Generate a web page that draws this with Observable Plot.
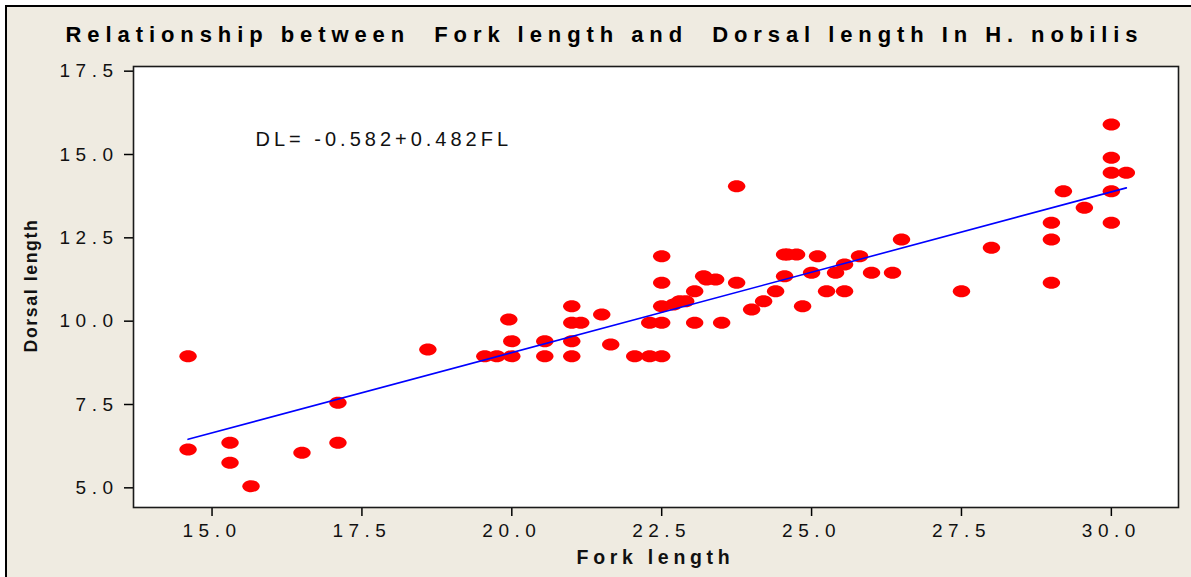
<!DOCTYPE html>
<html>
<head>
<meta charset="utf-8">
<script src="https://cdn.jsdelivr.net/npm/d3@7"></script>
<script src="https://cdn.jsdelivr.net/npm/@observablehq/plot@0.6"></script>
<style>
  html, body { margin: 0; padding: 0; background: #ffffff; }
  #wrap { position: relative; width: 1191px; height: 577px; overflow: hidden; background: #ffffff; }
  #panel { position: absolute; left: 5px; top: 5px; right: 0; bottom: 0;
           background: #efebe1; border-left: 2px solid #000; border-top: 2px solid #000; }
  #chart { position: absolute; left: 0; top: 0; }
</style>
</head>
<body>
<div id="wrap"><div id="panel"></div><div id="chart"></div></div>
<script>
// ---- data ----
const forkLength = [
  14.6, 14.6, 15.3, 15.3, 15.65, 16.5, 17.1, 17.1, 18.6,
  19.55, 19.75, 20.0, 20.0, 19.95, 20.55, 20.55,
  21.0, 21.0, 21.15, 21.0, 21.0, 21.5, 21.65,
  22.05, 22.3, 22.5, 22.3, 22.5, 22.5, 22.5, 22.5,
  22.7, 22.8, 22.9, 23.05, 23.05, 23.2, 23.25, 23.4, 23.5,
  23.75, 23.75, 24.0, 24.2, 24.4, 24.55, 24.6, 24.75, 24.55, 24.85,
  25.0, 25.1, 25.25, 25.4, 25.55, 25.55, 25.8, 26.0, 26.35, 26.5,
  27.5, 28.0, 29.0, 29.0, 29.0, 29.2, 29.55,
  30.0, 30.0, 30.0, 30.25, 30.0, 30.0
];
const dorsalLength = [
  8.95, 6.15, 6.35, 5.75, 5.05, 6.05, 7.55, 6.35, 9.15,
  8.95, 8.95, 8.95, 9.4, 10.05, 9.4, 8.95,
  10.45, 9.95, 9.95, 9.4, 8.95, 10.2, 9.3,
  8.95, 8.95, 8.95, 9.95, 9.95, 10.45, 11.15, 11.95,
  10.5, 10.6, 10.6, 10.9, 9.95, 11.35, 11.25, 11.25, 9.95,
  11.15, 14.05, 10.35, 10.6, 10.9, 12.0, 12.0, 12.0, 11.35, 10.45,
  11.45, 11.95, 10.9, 11.45, 11.7, 10.9, 11.95, 11.45, 11.45, 12.45,
  10.9, 12.2, 11.15, 12.45, 12.95, 13.9, 13.4,
  12.95, 13.9, 14.45, 14.45, 14.9, 15.9
];
const xTicks = [15.0, 17.5, 20.0, 22.5, 25.0, 27.5, 30.0];
const yTicks = [5.0, 7.5, 10.0, 12.5, 15.0, 17.5];
const intercept = -0.582;
const slope = 0.482;
const titleText = "Relationship between  Fork length and  Dorsal length In H. nobilis";
const equationText = "DL= -0.582+0.482FL";
const xLabel = "Fork length";
const yLabel = "Dorsal length";

// ---- build ----
const points = forkLength.map((fl, i) => ({fl, dl: dorsalLength[i]}));
const flExtent = d3.extent(forkLength);
const fit = flExtent.map(fl => ({fl, dl: intercept + slope * fl}));

// ellipse symbol (wider than tall), drawn from the size Plot gives it
const ellipse = {
  draw(ctx, size) {
    const r = Math.sqrt(size / Math.PI);
    const rx = r, ry = r * 0.69, k = 0.5523;
    ctx.moveTo(rx, 0);
    ctx.bezierCurveTo(rx, k * ry, k * rx, ry, 0, ry);
    ctx.bezierCurveTo(-k * rx, ry, -rx, k * ry, -rx, 0);
    ctx.bezierCurveTo(-rx, -k * ry, -k * rx, -ry, 0, -ry);
    ctx.bezierCurveTo(k * rx, -ry, rx, -k * ry, rx, 0);
    ctx.closePath();
  }
};

const mL = 133, mT = 66;
const font = "'Liberation Sans', Arial, sans-serif";

const chart = Plot.plot({
  width: 1191,
  height: 577,
  marginLeft: mL,
  marginRight: 13,
  marginTop: mT,
  marginBottom: 70,
  style: {background: "transparent", fontFamily: font, overflow: "visible"},
  x: {domain: [13.69, 31.12]},
  y: {domain: [4.41, 17.64]},
  marks: [
    Plot.frame({fill: "#ffffff", stroke: "none"}),
    Plot.axisX({ticks: xTicks, tickFormat: d3.format(".1f"), tickSize: 9, tickPadding: 7,
                fontSize: 19, stroke: "#000", strokeWidth: 1.5, fill: "#111", label: null}),
    Plot.axisY({ticks: yTicks, tickFormat: d3.format(".1f"), tickSize: 9, tickPadding: 6,
                fontSize: 19, stroke: "#000", strokeWidth: 1.5, fill: "#111", label: null}),
    Plot.dot(points, {x: "fl", y: "dl", r: 8.7, symbol: ellipse, fill: "#ff0000", stroke: "none"}),
    Plot.line(fit, {x: "fl", y: "dl", stroke: "#0000ff", strokeWidth: 1.6}),
    Plot.frame({stroke: "#1a1a1a", strokeWidth: 1.6}),
    Plot.text([titleText], {frameAnchor: "top-left", dx: 601 - mL, dy: 34.5 - mT,
               textAnchor: "middle", lineAnchor: "middle", fontSize: 22, fontWeight: "bold", fill: "#000"}),
    Plot.text([equationText], {frameAnchor: "top-left", dx: 255 - mL, dy: 139 - mT,
               textAnchor: "start", lineAnchor: "middle", fontSize: 20, fill: "#111"}),
    Plot.text([xLabel], {frameAnchor: "top-left", dx: 655 - mL, dy: 557 - mT,
               textAnchor: "middle", lineAnchor: "middle", fontSize: 19.5, fontWeight: "bold", fill: "#111"}),
    Plot.text([yLabel], {frameAnchor: "top-left", dx: 30.5 - mL, dy: 285 - mT, rotate: -90,
               textAnchor: "middle", lineAnchor: "middle", fontSize: 17.7, fontWeight: "bold", fill: "#111"})
  ]
});

// letter spacing styling
const spacing = new Map([[equationText, "4.0px"], [xLabel, "4.7px"], [yLabel, "1.6px"]]);
chart.querySelectorAll("text").forEach(t => {
  const s = spacing.get(t.textContent);
  if (s) { t.style.letterSpacing = s; t.style.whiteSpace = "pre"; }
  if (t.textContent === titleText) {
    t.style.whiteSpace = "pre";
    t.setAttribute("textLength", "1072");
    t.setAttribute("lengthAdjust", "spacing");
  }
});
chart.querySelectorAll('g[aria-label="x-axis tick label"] text, g[aria-label="y-axis tick label"] text')
  .forEach(t => { t.style.letterSpacing = "5.5px"; });

document.getElementById("chart").appendChild(chart);
</script>
</body>
</html>
